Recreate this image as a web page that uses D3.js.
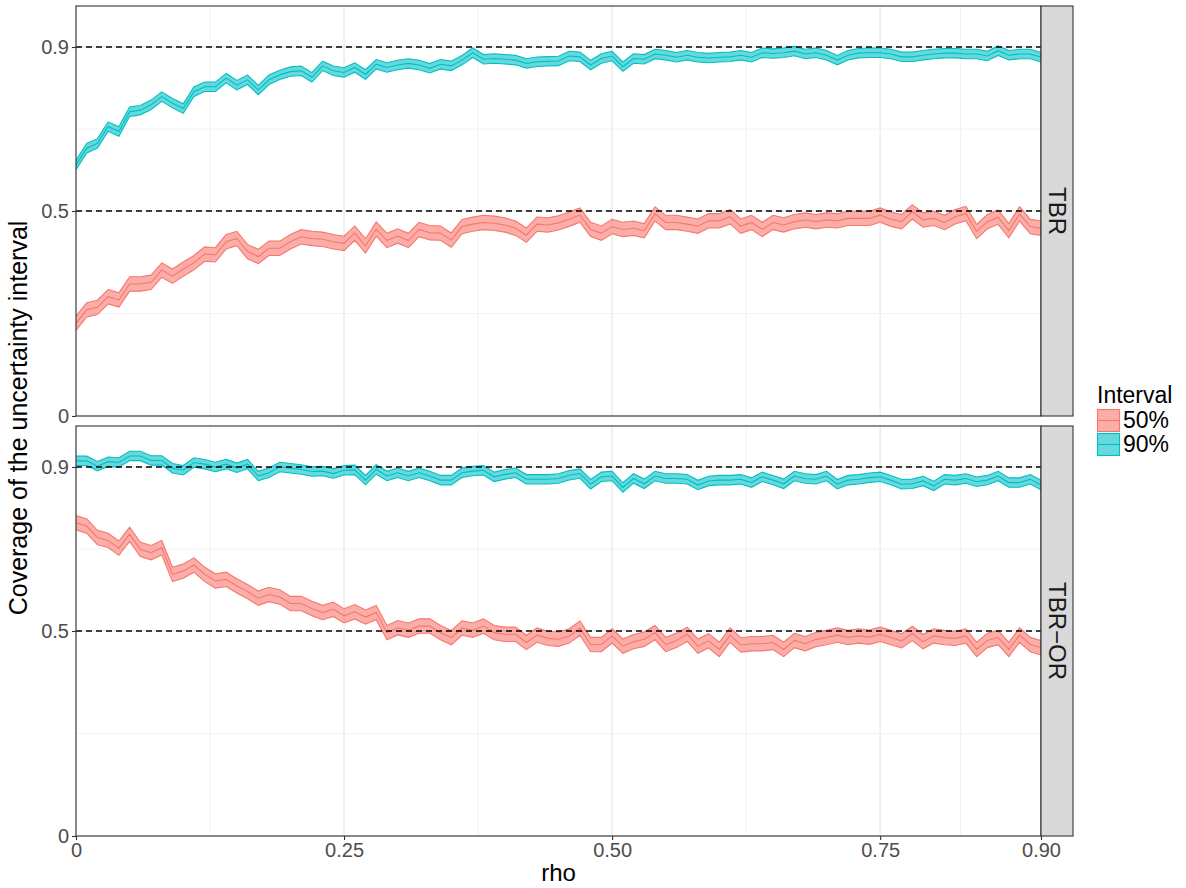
<!DOCTYPE html>
<html>
<head>
<meta charset="utf-8">
<script src="https://cdn.jsdelivr.net/npm/d3@7"></script>
<style>
  body { margin: 0; background: #fff; }
  svg text { font-family: "Liberation Sans", Arial, Helvetica, sans-serif; }
</style>
</head>
<body>
<div id="chart"></div>
<script>
// rho = 0, 0.01, ..., 0.90
const rho = d3.range(91).map(i => i / 100);

const facets = ['TBR', 'TBR\u2212OR'];
const intervals = ['50%', '90%'];
const targets = [0.5, 0.9];

const tbr50 = [0.226,0.259,0.265,0.291,0.283,0.322,0.322,0.326,0.356,0.341,
  0.358,0.374,0.395,0.393,0.425,0.433,0.401,0.389,0.409,0.409,
  0.425,0.437,0.433,0.431,0.425,0.421,0.446,0.415,0.456,0.428,
  0.439,0.428,0.455,0.447,0.446,0.429,0.462,0.468,0.472,0.470,
  0.466,0.458,0.441,0.468,0.466,0.471,0.480,0.490,0.455,0.446,
  0.462,0.455,0.458,0.452,0.493,0.472,0.472,0.468,0.463,0.476,
  0.476,0.486,0.463,0.472,0.455,0.472,0.466,0.474,0.478,0.474,
  0.478,0.476,0.482,0.482,0.482,0.490,0.480,0.474,0.498,0.478,
  0.482,0.472,0.486,0.494,0.450,0.474,0.485,0.452,0.493,0.462,0.458];

const tbr90 = [0.612,0.653,0.665,0.706,0.694,0.742,0.746,0.759,0.779,0.763,
  0.750,0.791,0.803,0.803,0.824,0.807,0.820,0.795,0.820,0.832,
  0.840,0.842,0.826,0.854,0.842,0.838,0.850,0.833,0.858,0.850,
  0.856,0.860,0.856,0.848,0.858,0.854,0.868,0.886,0.870,0.872,
  0.870,0.868,0.860,0.864,0.865,0.866,0.878,0.876,0.856,0.872,
  0.878,0.852,0.872,0.870,0.883,0.880,0.875,0.880,0.875,0.873,
  0.875,0.876,0.880,0.875,0.886,0.884,0.886,0.890,0.883,0.886,
  0.880,0.868,0.880,0.885,0.886,0.886,0.883,0.876,0.876,0.880,
  0.883,0.885,0.885,0.883,0.883,0.878,0.891,0.880,0.883,0.883,0.875];

const or50 = [0.764,0.756,0.728,0.721,0.702,0.736,0.699,0.691,0.703,0.638,
  0.646,0.661,0.638,0.622,0.626,0.610,0.596,0.580,0.589,0.583,
  0.567,0.567,0.555,0.545,0.553,0.537,0.547,0.534,0.545,0.496,
  0.508,0.502,0.512,0.512,0.496,0.484,0.507,0.502,0.512,0.496,
  0.492,0.492,0.472,0.490,0.482,0.480,0.488,0.507,0.467,0.467,
  0.488,0.463,0.474,0.480,0.496,0.467,0.477,0.492,0.463,0.476,
  0.455,0.490,0.466,0.469,0.469,0.472,0.455,0.477,0.469,0.479,
  0.484,0.490,0.484,0.488,0.485,0.492,0.484,0.476,0.494,0.474,
  0.488,0.484,0.482,0.488,0.455,0.477,0.484,0.455,0.490,0.467,0.459];

const or90 = [0.915,0.915,0.902,0.913,0.911,0.927,0.927,0.916,0.916,0.897,
  0.892,0.911,0.907,0.900,0.907,0.898,0.907,0.878,0.886,0.900,
  0.897,0.894,0.889,0.890,0.884,0.892,0.893,0.868,0.894,0.878,
  0.886,0.878,0.886,0.878,0.868,0.868,0.886,0.890,0.892,0.876,
  0.882,0.886,0.870,0.870,0.870,0.872,0.880,0.884,0.858,0.876,
  0.878,0.850,0.872,0.859,0.878,0.872,0.872,0.870,0.856,0.866,
  0.868,0.868,0.870,0.862,0.876,0.868,0.859,0.878,0.872,0.870,
  0.878,0.858,0.868,0.870,0.874,0.876,0.868,0.858,0.859,0.866,
  0.854,0.870,0.868,0.872,0.864,0.868,0.878,0.862,0.862,0.870,0.856];

// half-width of the shaded uncertainty band
const bandHalf = { '50%': 0.0175, '90%': 0.0115 };

const seriesByFacet = [
  [ { interval: '50%', values: tbr50 }, { interval: '90%', values: tbr90 } ],
  [ { interval: '50%', values: or50 },  { interval: '90%', values: or90 } ]
];

const xTicks = [0, 0.25, 0.50, 0.75, 0.90];
const xTickLabels = ['0', '0.25', '0.50', '0.75', '0.90'];
const xMinor = [0.125, 0.375, 0.625, 0.825];
const yTicks = [0, 0.5, 0.9];
const yTickLabels = ['0', '0.5', '0.9'];
const yMinor = [0.25, 0.7];

const W = 1186, H = 888;
const left = 76, right = 1041, stripW = 32;
const panels = [{ top: 6, bottom: 416 }, { top: 426, bottom: 836 }];

const fillCol = d3.scaleOrdinal().domain(intervals).range(['#F8766D', '#00BFC4']);

const svg = d3.select('#chart').append('svg')
  .attr('width', W).attr('height', H);

const x = d3.scaleLinear().domain([0, 0.9]).range([left, right]);

panels.forEach((p, pi) => {
  const y = d3.scaleLinear().domain([0, 1]).range([p.bottom, p.top]);
  const g = svg.append('g');

  // grid
  g.selectAll('.vminor').data(xMinor).enter().append('line')
    .attr('x1', d => x(d)).attr('x2', d => x(d))
    .attr('y1', p.top).attr('y2', p.bottom)
    .attr('stroke', '#F2F2F2').attr('stroke-width', 1);
  g.selectAll('.hminor').data(yMinor).enter().append('line')
    .attr('x1', left).attr('x2', right)
    .attr('y1', d => y(d)).attr('y2', d => y(d))
    .attr('stroke', '#F2F2F2').attr('stroke-width', 1);
  g.selectAll('.vmajor').data(xTicks).enter().append('line')
    .attr('x1', d => x(d)).attr('x2', d => x(d))
    .attr('y1', p.top).attr('y2', p.bottom)
    .attr('stroke', '#EBEBEB').attr('stroke-width', 1.4);
  g.selectAll('.hmajor').data(yTicks).enter().append('line')
    .attr('x1', left).attr('x2', right)
    .attr('y1', d => y(d)).attr('y2', d => y(d))
    .attr('stroke', '#EBEBEB').attr('stroke-width', 1.4);

  // ribbons
  seriesByFacet[pi].forEach(s => {
    const h = bandHalf[s.interval];
    const pts = s.values.map((v, i) => ({ r: rho[i], v: v }));
    const col = fillCol(s.interval);
    const area = d3.area().x(d => x(d.r)).y0(d => y(d.v - h)).y1(d => y(d.v + h));
    g.append('path').datum(pts).attr('d', area)
      .attr('fill', col).attr('fill-opacity', 0.6).attr('stroke', 'none');
    const lineLo = d3.line().x(d => x(d.r)).y(d => y(d.v - h));
    const lineHi = d3.line().x(d => x(d.r)).y(d => y(d.v + h));
    const lineMid = d3.line().x(d => x(d.r)).y(d => y(d.v));
    [lineLo, lineHi, lineMid].forEach(l => {
      g.append('path').datum(pts).attr('d', l)
        .attr('fill', 'none').attr('stroke', col).attr('stroke-width', 1.1);
    });
  });

  // dashed targets
  g.selectAll('.target').data(targets).enter().append('line')
    .attr('x1', left).attr('x2', right)
    .attr('y1', d => y(d)).attr('y2', d => y(d))
    .attr('stroke', '#000').attr('stroke-width', 1.4)
    .attr('stroke-dasharray', '6,4');

  // panel border
  g.append('rect').attr('x', left).attr('y', p.top)
    .attr('width', right - left).attr('height', p.bottom - p.top)
    .attr('fill', 'none').attr('stroke', '#333').attr('stroke-width', 1.1);

  // strip
  g.append('rect').attr('x', right).attr('y', p.top)
    .attr('width', stripW).attr('height', p.bottom - p.top)
    .attr('fill', '#D9D9D9').attr('stroke', '#333').attr('stroke-width', 1.1);
  g.append('text')
    .attr('transform', `translate(${right + stripW / 2},${(p.top + p.bottom) / 2}) rotate(90)`)
    .attr('text-anchor', 'middle').attr('dy', '0.35em')
    .attr('font-size', 24).attr('fill', '#1A1A1A')
    .text(facets[pi]);

  // y axis
  const ya = g.append('g').attr('transform', `translate(${left},0)`)
    .call(d3.axisLeft(y).tickValues(yTicks).tickFormat((d, i) => yTickLabels[i])
      .tickSize(4).tickPadding(3));
  ya.select('.domain').remove();
  ya.selectAll('.tick line').attr('stroke', '#333').attr('stroke-width', 1.1);
  ya.selectAll('.tick text').attr('font-size', 20).attr('fill', '#4D4D4D')
    .attr('font-family', '"Liberation Sans", Arial, sans-serif');

  if (pi === 1) {
    const xa = g.append('g').attr('transform', `translate(0,${p.bottom})`)
      .call(d3.axisBottom(x).tickValues(xTicks).tickFormat((d, i) => xTickLabels[i])
        .tickSize(4).tickPadding(3));
    xa.select('.domain').remove();
    xa.selectAll('.tick line').attr('stroke', '#333').attr('stroke-width', 1.1);
    xa.selectAll('.tick text').attr('font-size', 20).attr('fill', '#4D4D4D')
      .attr('font-family', '"Liberation Sans", Arial, sans-serif');
  }
});

// axis titles
svg.append('text').attr('x', (left + right) / 2).attr('y', 881)
  .attr('text-anchor', 'middle').attr('font-size', 24).attr('fill', '#000')
  .text('rho');
svg.append('text')
  .attr('transform', `translate(27,418) rotate(-90)`)
  .attr('text-anchor', 'middle').attr('font-size', 25).attr('fill', '#000')
  .text('Coverage of the uncertainty interval');

// legend
const lg = svg.append('g').attr('transform', 'translate(1097,0)');
lg.append('text').attr('x', 0).attr('y', 403).attr('font-size', 23).attr('fill', '#000')
  .text('Interval');
intervals.forEach((iv, i) => {
  const ky = 409 + i * 24;
  const col = fillCol(iv);
  lg.append('rect').attr('x', 0.5).attr('y', ky + 0.5).attr('width', 22).attr('height', 22)
    .attr('fill', col).attr('fill-opacity', 0.6).attr('stroke', col).attr('stroke-width', 1.1);
  lg.append('line').attr('x1', 0.5).attr('x2', 22.5).attr('y1', ky + 11.5).attr('y2', ky + 11.5)
    .attr('stroke', col).attr('stroke-width', 1.1);
  lg.append('text').attr('x', 26).attr('y', ky + 19).attr('font-size', 23).attr('fill', '#000')
    .text(iv);
});
</script>
</body>
</html>
